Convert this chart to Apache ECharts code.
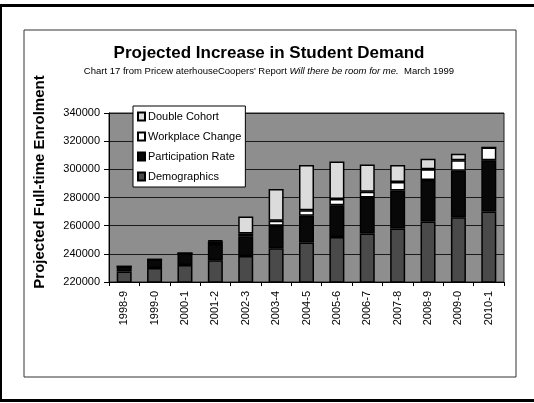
<!DOCTYPE html>
<html>
<head>
<meta charset="utf-8">
<script src="https://cdn.jsdelivr.net/npm/echarts@6/dist/echarts.min.js"></script>
<style>
  html, body { margin: 0; padding: 0; background: #fff; }
  #main { width: 534px; height: 403px; }
</style>
</head>
<body>
<div id="main"></div>
<script>
var years = ["1998-9", "1999-0", "2000-1", "2001-2", "2002-3", "2003-4", "2004-5",
  "2005-6", "2006-7", "2007-8", "2008-9", "2009-0", "2010-1"];
// stacked increments, bottom to top
var demographics = [227500, 230000, 232000, 235500, 238500, 244000, 248000, 252000, 254500, 258000, 263000, 266000, 270000];
var participation = [3500, 6000, 8500, 11500, 14000, 16000, 19000, 22500, 25500, 27000, 29500, 33000, 36500];
var workplace = [0, 0, 0, 2000, 2000, 3500, 4000, 4500, 4000, 6000, 7500, 7500, 9000];
var doubleCohort = [0, 0, 0, 500, 12000, 22500, 32000, 26500, 19500, 12000, 7500, 4500, 0];
var yTicks = [220000, 240000, 260000, 280000, 300000, 320000, 340000];

var chart = echarts.init(document.getElementById("main"));

function seg(name, data, color) {
  return {
    name: name,
    type: "bar",
    stack: "total",
    data: data,
    barWidth: 15,
    itemStyle: { color: color, borderColor: "#000", borderWidth: 1.5 },
    emphasis: { disabled: true }
  };
}

chart.setOption({
  animation: false,
  textStyle: { fontFamily: "Liberation Sans, Arial, sans-serif" },
  title: {
    text: "Projected Increase in Student Demand",
    subtext: "{n|Chart 17 from Pricew aterhouseCoopers' Report }{i|Will there be room for me.}{n|  March 1999}",
    left: 264,
    textAlign: "center",
    top: 40,
    itemGap: 4,
    textStyle: { fontSize: 17, fontWeight: "bold", color: "#000" },
    subtextStyle: {
      rich: {
        n: { fontSize: 9.5, color: "#000" },
        i: { fontSize: 9.5, color: "#000", fontStyle: "italic" }
      }
    }
  },
  legend: {
    orient: "vertical",
    left: 133,
    top: 106,
    data: ["Double Cohort", "Workplace Change", "Participation Rate", "Demographics"],
    icon: "rect",
    backgroundColor: "#fff",
    borderColor: "#000",
    borderWidth: 1,
    padding: [5, 4, 5, 4],
    itemWidth: 7,
    itemHeight: 8,
    itemGap: 9,
    textStyle: { fontSize: 11, color: "#000", padding: [0, 0, 0, -2] }
  },
  grid: {
    left: 109,
    right: 30,
    top: 113,
    bottom: 121,
    show: true,
    backgroundColor: "#8e8e8e",
    borderColor: "#222",
    borderWidth: 1
  },
  xAxis: {
    type: "category",
    data: years,
    axisLine: { lineStyle: { color: "#000", width: 1 } },
    axisTick: { show: true, length: 4, lineStyle: { color: "#000" } },
    axisLabel: { rotate: 90, fontSize: 11, color: "#000", margin: 9 }
  },
  yAxis: {
    type: "value",
    min: yTicks[0],
    max: yTicks[yTicks.length - 1],
    interval: 20000,
    axisLine: { show: true, lineStyle: { color: "#000" } },
    axisTick: { show: true, length: 5, lineStyle: { color: "#000" } },
    axisLabel: { fontSize: 11, color: "#000", margin: 9, formatter: function (v) { return String(v); } },
    splitLine: { lineStyle: { color: "#1a1a1a", width: 1 } }
  },
  graphic: [
    { type: "rect", shape: { x: 24, y: 30, width: 492, height: 347 }, style: { fill: null, stroke: "#333", lineWidth: 1 }, z: -1 },
    { type: "rect", shape: { x: 0, y: 4, width: 534, height: 3 }, style: { fill: "#000" } },
    { type: "rect", shape: { x: 0, y: 399, width: 534, height: 3 }, style: { fill: "#000" } },
    { type: "rect", shape: { x: 0, y: 4, width: 2, height: 398 }, style: { fill: "#000" } },
    {
      type: "text",
      x: 40,
      y: 182,
      rotation: Math.PI / 2,
      style: {
        text: "Projected Full-time Enrolment",
        fill: "#000",
        align: "center",
        verticalAlign: "middle",
        font: "bold 15px Liberation Sans, Arial, sans-serif"
      }
    }
  ],
  series: [
    seg("Demographics", demographics, "#4a4a4a"),
    seg("Participation Rate", participation, "#080808"),
    seg("Workplace Change", workplace, "#ffffff"),
    seg("Double Cohort", doubleCohort, "#dcdcdc")
  ]
});
</script>
</body>
</html>
